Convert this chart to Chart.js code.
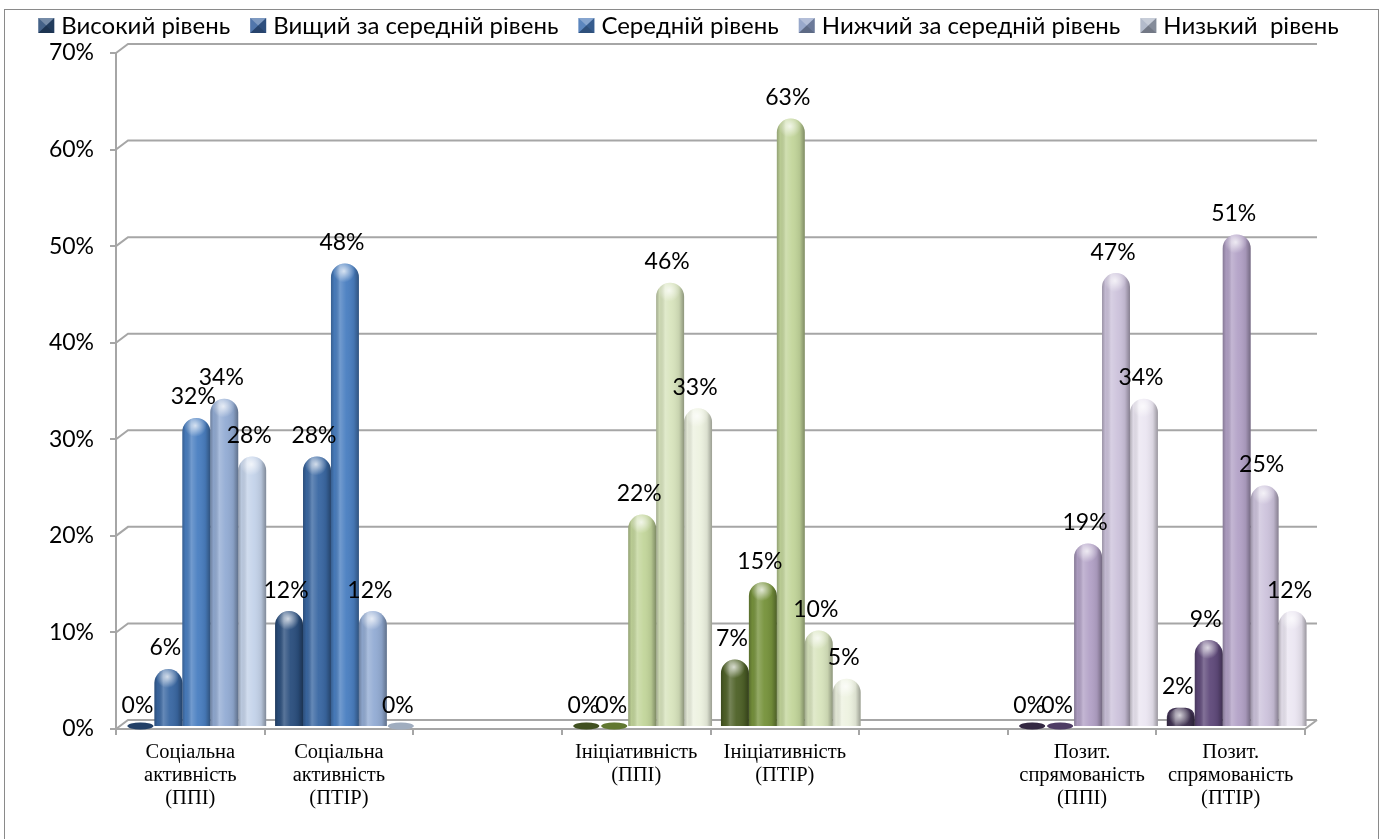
<!DOCTYPE html>
<html>
<head>
<meta charset="utf-8">
<title>Рівні сформованості</title>
<script src="https://cdn.jsdelivr.net/npm/chart.js@4.4.1/dist/chart.umd.min.js"></script>
<style>
  html, body { margin: 0; padding: 0; background: #fff; }
  #wrap { position: relative; width: 1383px; height: 839px; }
</style>
</head>
<body>
<div id="wrap"><canvas id="levelsChart" width="1383" height="839"></canvas></div>
<script>
// categories (empty slots separate the three groups)
const categories = [
  ['Соціальна', 'активність', '(ППІ)'],
  ['Соціальна', 'активність', '(ПТІР)'],
  '',
  ['Ініціативність', '(ППІ)'],
  ['Ініціативність', '(ПТІР)'],
  '',
  ['Позит.', 'спрямованість', '(ППІ)'],
  ['Позит.', 'спрямованість', '(ПТІР)']
];

const seriesNames = [
  'Високий рівень',
  'Вищий за середній рівень',
  'Середній рівень',
  'Нижчий за середній рівень',
  'Низький  рівень'
];

// values, %
const highLevel     = [0, 12, null, 0, 7, null, 0, 2];
const aboveAvgLevel = [6, 28, null, 0, 15, null, 0, 9];
const avgLevel      = [32, 48, null, 22, 63, null, 19, 51];
const belowAvgLevel = [34, 12, null, 46, 10, null, 47, 25];
const lowLevel      = [28, 0, null, 33, 5, null, 34, 12];

const yTicks = [0, 10, 20, 30, 40, 50, 60, 70];

// colours: each group of categories has its own shade ramp
const palettes = {
  blue:   ['#2b4f7e', '#3a68a3', '#4a7fc1', '#93acd4', '#c4d3ea'],
  green:  ['#4f6228', '#77933c', '#c3d69b', '#d8e4bd', '#edf2e0'],
  purple: ['#3f3151', '#604a7b', '#b3a2c7', '#cdc3dc', '#ebe6f2']
};
const categoryTheme = ['blue', 'blue', null, 'green', 'green', null, 'purple', 'purple'];
const legendColors = ['#2c4d78', '#3a64a0', '#4676b6', '#8a9cc4', '#a9b2c4'];

const DEPTH_X = 12, DEPTH_Y = 9;   // back wall offset
const SHIFT_X = 6, SHIFT_Y = -2;   // bars stand in the middle of the floor
const SANS = 'Lato, "Noto Sans", sans-serif';
const LABEL_FONT = '23px ' + SANS;
const LEGEND_FONT = '24px ' + SANS;

const seriesData = [highLevel, aboveAvgLevel, avgLevel, belowAvgLevel, lowLevel];

function barColor(ctx) {
  const theme = categoryTheme[ctx.dataIndex];
  return theme ? palettes[theme][ctx.datasetIndex] : 'transparent';
}

// small bevelled square used as legend key
function drawKey(ctx, x, y, w, h, color) {
  ctx.fillStyle = color;
  ctx.fillRect(x, y, w, h);
  const cx = x + w / 2, cy = y + h / 2;
  const tri = (pts, fill) => {
    ctx.beginPath();
    ctx.moveTo(pts[0], pts[1]);
    ctx.lineTo(pts[2], pts[3]);
    ctx.lineTo(cx, cy);
    ctx.closePath();
    ctx.fillStyle = fill;
    ctx.fill();
  };
  tri([x, y, x + w, y], 'rgba(255,255,255,0.35)');
  tri([x, y, x, y + h], 'rgba(255,255,255,0.12)');
  tri([x + w, y, x + w, y + h], 'rgba(0,0,0,0.22)');
  tri([x, y + h, x + w, y + h], 'rgba(0,0,0,0.32)');
}

const wallPlugin = {
  id: 'wall3d',
  beforeDraw(chart) {
    const { ctx, width, height } = chart;
    ctx.save();
    ctx.fillStyle = '#fff';
    ctx.fillRect(0, 0, width, height);
    ctx.strokeStyle = '#8a8a8a';
    ctx.lineWidth = 1;
    ctx.strokeRect(4.5, 9.5, width - 9, height + 10);
    ctx.restore();
  },
  beforeDatasetsDraw(chart) {
    const { ctx, chartArea, scales: { y } } = chart;
    ctx.save();
    ctx.strokeStyle = '#a6a6a6';
    ctx.lineWidth = 2;
    yTicks.forEach(v => {
      const py = y.getPixelForValue(v);
      ctx.beginPath();
      ctx.moveTo(chartArea.left, py);
      ctx.lineTo(chartArea.left + DEPTH_X, py - DEPTH_Y);
      ctx.lineTo(chartArea.right + DEPTH_X, py - DEPTH_Y);
      ctx.stroke();
    });
    const py0 = y.getPixelForValue(0);
    ctx.beginPath();
    ctx.moveTo(chartArea.right, py0);
    ctx.lineTo(chartArea.right + DEPTH_X, py0 - DEPTH_Y);
    ctx.stroke();
    ctx.restore();

    ctx.save();
    ctx.translate(SHIFT_X, SHIFT_Y);
  },
  afterDatasetsDraw(chart) {
    const { ctx } = chart;
    // cylinder shading over every bar
    chart.data.datasets.forEach((ds, di) => {
      chart.getDatasetMeta(di).data.forEach((el, i) => {
        const v = ds.data[i];
        if (v === null || v === undefined) return;
        const { x, y, base, width } = el.getProps(['x', 'y', 'base', 'width'], true);
        const x0 = x - width / 2;
        const color = palettes[categoryTheme[i]][di];
        if (v === 0) {
          // empty value: just the flat disc lying on the floor
          ctx.beginPath();
          ctx.ellipse(x, base - 1, width / 2 - 1, 3.5, 0, 0, Math.PI * 2);
          ctx.fillStyle = color;
          ctx.fill();
          ctx.fillStyle = 'rgba(0,0,0,0.18)';
          ctx.fill();
          return;
        }
        const r = Math.min(width / 2, base - y);
        const g = ctx.createLinearGradient(x0, 0, x0 + width, 0);
        g.addColorStop(0, 'rgba(0,0,0,0.25)');
        g.addColorStop(0.12, 'rgba(0,0,0,0.05)');
        g.addColorStop(0.32, 'rgba(255,255,255,0.22)');
        g.addColorStop(0.55, 'rgba(255,255,255,0.04)');
        g.addColorStop(0.82, 'rgba(0,0,0,0.08)');
        g.addColorStop(1, 'rgba(0,0,0,0.35)');
        ctx.beginPath();
        ctx.roundRect(x0, y, width, base - y, [r, r, 0, 0]);
        ctx.fillStyle = g;
        ctx.fill();
        // highlight on the rounded top
        const hg = ctx.createRadialGradient(x - 1, y + r * 0.55, 0, x - 1, y + r * 0.55, r * 0.8);
        hg.addColorStop(0, 'rgba(255,255,255,0.75)');
        hg.addColorStop(1, 'rgba(255,255,255,0)');
        ctx.beginPath();
        ctx.roundRect(x0, y, width, Math.min(base - y, r * 1.6), [r, r, 0, 0]);
        ctx.fillStyle = hg;
        ctx.fill();
      });
    });
    ctx.restore();

    // value labels
    ctx.save();
    ctx.font = LABEL_FONT;
    ctx.fillStyle = '#000';
    ctx.textAlign = 'center';
    ctx.textBaseline = 'middle';
    chart.data.datasets.forEach((ds, di) => {
      chart.getDatasetMeta(di).data.forEach((el, i) => {
        const v = ds.data[i];
        if (v === null || v === undefined) return;
        ctx.fillText(v + '%', el.x + 3, el.y - 23);
      });
    });
    ctx.restore();
  },
  afterDraw(chart) {
    // legend row across the top
    const { ctx } = chart;
    const box = 16, textGap = 7, itemGap = 20, cy = 26;
    ctx.save();
    ctx.font = LEGEND_FONT;
    ctx.textBaseline = 'middle';
    const widths = seriesNames.map(t => ctx.measureText(t).width);
    const total = widths.reduce((s, w) => s + box + textGap + w, 0) + itemGap * (seriesNames.length - 1);
    let x = chart.width / 2 - total / 2 - 3;
    seriesNames.forEach((name, i) => {
      drawKey(ctx, x, cy - 8, box, 15, legendColors[i]);
      ctx.fillStyle = '#000';
      ctx.fillText(name, x + box + textGap, cy);
      x += box + textGap + widths[i] + itemGap;
    });
    ctx.restore();
  }
};

new Chart(document.getElementById('levelsChart'), {
  type: 'bar',
  data: {
    labels: categories,
    datasets: seriesData.map((arr, i) => ({
      label: seriesNames[i],
      data: arr,
      backgroundColor: barColor,
      borderWidth: 0,
      borderRadius: { topLeft: 14, topRight: 14, bottomLeft: 0, bottomRight: 0 },
      borderSkipped: false,
      categoryPercentage: 0.94,
      barPercentage: 1.0,
      clip: false
    }))
  },
  options: {
    responsive: false,
    animation: false,
    layout: { padding: { top: 53, right: 78, left: 0, bottom: 0 } },
    plugins: {
      tooltip: { enabled: false },
      legend: { display: false }
    },
    scales: {
      x: {
        grid: { drawOnChartArea: false, offset: true, tickLength: 6, color: '#a6a6a6', lineWidth: 2 },
        border: { color: '#a6a6a6', width: 2 },
        ticks: {
          autoSkip: false,
          maxRotation: 0,
          color: '#000',
          padding: 6,
          font: { family: '"Liberation Serif", "Times New Roman", serif', size: 20.5, lineHeight: 1.12 }
        },
        afterFit: scale => { scale.height = 110; }
      },
      y: {
        min: 0,
        max: 70,
        grid: { drawOnChartArea: false, tickLength: 6, color: '#a6a6a6', lineWidth: 2 },
        border: { color: '#a6a6a6', width: 2 },
        ticks: {
          stepSize: 10,
          color: '#000',
          padding: 16,
          font: { family: SANS, size: 23 },
          callback: v => v + '%'
        },
        afterFit: scale => { scale.width = 116; }
      }
    }
  },
  plugins: [wallPlugin]
});
</script>
</body>
</html>
